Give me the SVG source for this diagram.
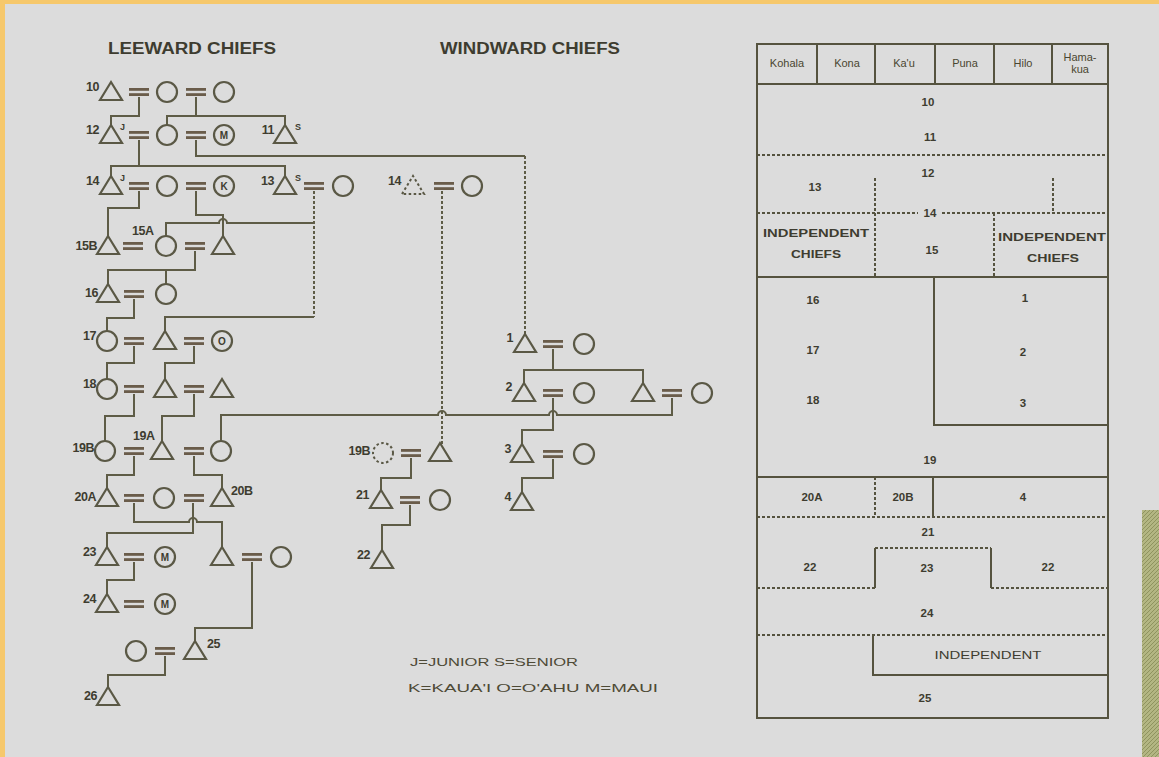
<svg xmlns="http://www.w3.org/2000/svg" width="1159" height="757" viewBox="0 0 1159 757">
<style>
.ln{fill:none;stroke:#5e5c46;stroke-width:2}
.dl{fill:none;stroke:#5e5c46;stroke-width:2;stroke-dasharray:3 2}
.sym{fill:none;stroke:#5a5845;stroke-width:2.2}
.dsym{fill:none;stroke:#5a5845;stroke-width:2;stroke-dasharray:2.5 2.5}
.eqs{fill:none;stroke:#6a5c4a;stroke-width:2.8}
.lab{font-family:"Liberation Sans",Arial,sans-serif;font-weight:bold;font-size:12.5px;fill:#3e3c30;letter-spacing:-0.5px}
.sup{font-family:"Liberation Sans",Arial,sans-serif;font-weight:bold;font-size:9px;fill:#3e3c30}
.in{font-family:"Liberation Sans",Arial,sans-serif;font-weight:bold;font-size:10px;fill:#3e3c30;text-anchor:middle}
.ttl{font-family:"Liberation Sans",Arial,sans-serif;font-weight:bold;font-size:16px;fill:#3e3c30}
.tb{font-family:"Liberation Sans",Arial,sans-serif;font-weight:bold;font-size:11.5px;fill:#3e3c30;text-anchor:middle}
.th{font-family:"Liberation Sans",Arial,sans-serif;font-size:11px;fill:#4a4630;text-anchor:middle}
.lg{font-family:"Liberation Sans",Arial,sans-serif;font-size:11px;fill:#4e4a36}
.tl{fill:none;stroke:#55533f;stroke-width:2}
.td{fill:none;stroke:#55533f;stroke-width:2;stroke-dasharray:3 2}
</style>
<defs>
<path id="tri" d="M-11,8 L0,-10 L11,8 Z"/>
<circle id="cir" r="10"/>
<g id="eq"><line x1="-10" y1="-2.6" x2="10" y2="-2.6"/><line x1="-10" y1="2.6" x2="10" y2="2.6"/></g>
<pattern id="tex" width="4" height="4" patternUnits="userSpaceOnUse"><rect width="4" height="4" fill="#b3b683"/><path d="M0,4 L4,0" stroke="#8f935f" stroke-width="1"/></pattern>
</defs>
<rect width="1159" height="757" fill="#dcdcdc"/>
<rect x="0" y="0" width="1159" height="4" fill="#f6c86c"/>
<rect x="0" y="0" width="5" height="757" fill="#f6c86c"/>
<rect x="1142" y="510" width="17" height="247" fill="url(#tex)"/>

<text class="ttl" x="108" y="54" textLength="168" lengthAdjust="spacingAndGlyphs">LEEWARD CHIEFS</text>
<text class="ttl" x="440" y="54" textLength="180" lengthAdjust="spacingAndGlyphs">WINDWARD CHIEFS</text>

<g id="connectors">
<g class="eqs">
<use href="#eq" x="139" y="92"/><use href="#eq" x="196" y="92"/>
<use href="#eq" x="139" y="135"/><use href="#eq" x="196" y="135"/>
<use href="#eq" x="139" y="186"/><use href="#eq" x="196" y="186"/><use href="#eq" x="314" y="186"/>
<use href="#eq" x="133" y="246"/><use href="#eq" x="195" y="246"/>
<use href="#eq" x="134" y="294"/>
<use href="#eq" x="134" y="341"/><use href="#eq" x="194" y="341"/>
<use href="#eq" x="134" y="389"/><use href="#eq" x="194" y="389"/>
<use href="#eq" x="134" y="451"/><use href="#eq" x="194" y="451"/>
<use href="#eq" x="134" y="498"/><use href="#eq" x="194" y="498"/>
<use href="#eq" x="134" y="557"/><use href="#eq" x="252" y="557"/>
<use href="#eq" x="134" y="604"/>
<use href="#eq" x="165" y="651"/>
<use href="#eq" x="444" y="186"/>
<use href="#eq" x="411" y="453"/>
<use href="#eq" x="410" y="500"/>
<use href="#eq" x="553" y="344"/>
<use href="#eq" x="553" y="393"/><use href="#eq" x="672" y="393"/>
<use href="#eq" x="553" y="454"/>
</g>
<path class="ln" d="M139,97 V116 H111 V126"/>
<path class="ln" d="M196,97 V116 M167,125 V116 H285 V126"/>
<path class="ln" d="M139,140 V166 H111 V177 M111,166 H285 V177"/>
<path class="ln" d="M196,140 V156 H525"/>
<path class="dl" d="M525,156 V335"/>
<path class="ln" d="M139,191 V208 H108 V237"/>
<path class="ln" d="M196,191 V215 H223 V237"/>
<path class="ln" d="M166,236 V223 H219 A4,4 0 0 1 227,223 H314"/>
<path class="dl" d="M314,191 V317"/>
<path class="ln" d="M314,317 H165 V332"/>
<path class="ln" d="M195,251 V270 H108 V285 M166,270 V284"/>
<path class="ln" d="M134,299 V318 H107 V331"/>
<path class="ln" d="M134,346 V363 H107 V379 M194,346 V363 H165 V380"/>
<path class="ln" d="M134,394 V416 H105 V441 M194,394 V416 H162 V442"/>
<path class="ln" d="M672,398 V415 H557 A4,4 0 0 0 549,415 H446 A4,4 0 0 0 438,415 H221 V441"/>
<path class="ln" d="M134,456 V475 H107 V489 M194,456 V475 H222 V489"/>
<path class="ln" d="M134,503 V522 H189 A4,4 0 0 1 197,522 H222 V548"/>
<path class="ln" d="M193,503 V533 H107 V548"/>
<path class="ln" d="M134,562 V580 H107 V595"/>
<path class="ln" d="M252,562 V628 H195 V642"/>
<path class="ln" d="M165,656 V675 H108 V688"/>
<path class="dl" d="M442,191 V444"/>
<path class="ln" d="M411,458 V478 H381 V491"/>
<path class="ln" d="M410,505 V525 H382 V551"/>
<path class="ln" d="M553,349 V370 M524,384 V370 H643 V384"/>
<path class="ln" d="M553,398 V430 H522 V445"/>
<path class="ln" d="M553,459 V478 H522 V493"/>
</g>

<g id="n10"><use class="sym" href="#tri" x="111" y="92"/><text class="lab" x="99" y="91" text-anchor="end">10</text></g>
<g id="n10w1"><use class="sym" href="#cir" x="167" y="92"/></g>
<g id="n10w2"><use class="sym" href="#cir" x="224" y="92"/></g>
<g id="n12"><use class="sym" href="#tri" x="111" y="135"/><text class="lab" x="99" y="134" text-anchor="end">12</text><text class="sup" x="120" y="130">J</text></g>
<g id="n12w1"><use class="sym" href="#cir" x="167" y="135"/></g>
<g id="n12w2"><use class="sym" href="#cir" x="224" y="135"/><text class="in" x="224" y="139">M</text></g>
<g id="n11"><use class="sym" href="#tri" x="285" y="135"/><text class="lab" x="274" y="134" text-anchor="end">11</text><text class="sup" x="295" y="130">S</text></g>
<g id="n14"><use class="sym" href="#tri" x="111" y="186"/><text class="lab" x="99" y="185" text-anchor="end">14</text><text class="sup" x="120" y="181">J</text></g>
<g id="n14w1"><use class="sym" href="#cir" x="167" y="186"/></g>
<g id="n14w2"><use class="sym" href="#cir" x="224" y="186"/><text class="in" x="224" y="190">K</text></g>
<g id="n13"><use class="sym" href="#tri" x="285" y="186"/><text class="lab" x="274" y="185" text-anchor="end">13</text><text class="sup" x="295" y="181">S</text></g>
<g id="n13w"><use class="sym" href="#cir" x="343" y="186"/></g>
<g id="n15b"><use class="sym" href="#tri" x="108" y="246"/><text class="lab" x="97" y="250" text-anchor="end">15B</text></g>
<g id="n15a"><use class="sym" href="#cir" x="166" y="246"/><text class="lab" x="132" y="235">15A</text></g>
<g id="n15h"><use class="sym" href="#tri" x="223" y="246"/></g>
<g id="n16"><use class="sym" href="#tri" x="108" y="294"/><text class="lab" x="98" y="297" text-anchor="end">16</text></g>
<g id="n16w"><use class="sym" href="#cir" x="166" y="294"/></g>
<g id="n17w"><use class="sym" href="#cir" x="107" y="341"/><text class="lab" x="96" y="340" text-anchor="end">17</text></g>
<g id="n17"><use class="sym" href="#tri" x="165" y="341"/></g>
<g id="n17o"><use class="sym" href="#cir" x="222" y="341"/><text class="in" x="222" y="345">O</text></g>
<g id="n18w"><use class="sym" href="#cir" x="107" y="389"/><text class="lab" x="96" y="388" text-anchor="end">18</text></g>
<g id="n18"><use class="sym" href="#tri" x="165" y="389"/></g>
<g id="n18h"><use class="sym" href="#tri" x="222" y="389"/></g>
<g id="n19b"><use class="sym" href="#cir" x="105" y="451"/><text class="lab" x="94" y="452" text-anchor="end">19B</text></g>
<g id="n19a"><use class="sym" href="#tri" x="162" y="451"/><text class="lab" x="133" y="440">19A</text></g>
<g id="n19w"><use class="sym" href="#cir" x="221" y="451"/></g>
<g id="n20a"><use class="sym" href="#tri" x="107" y="498"/><text class="lab" x="96" y="501" text-anchor="end">20A</text></g>
<g id="n20w"><use class="sym" href="#cir" x="164" y="498"/></g>
<g id="n20b"><use class="sym" href="#tri" x="222" y="498"/><text class="lab" x="231" y="495">20B</text></g>
<g id="n23"><use class="sym" href="#tri" x="107" y="557"/><text class="lab" x="96" y="556" text-anchor="end">23</text></g>
<g id="n23w"><use class="sym" href="#cir" x="165" y="557"/><text class="in" x="165" y="561">M</text></g>
<g id="n23b"><use class="sym" href="#tri" x="222" y="557"/></g>
<g id="n23bw"><use class="sym" href="#cir" x="281" y="557"/></g>
<g id="n24"><use class="sym" href="#tri" x="107" y="604"/><text class="lab" x="96" y="603" text-anchor="end">24</text></g>
<g id="n24w"><use class="sym" href="#cir" x="165" y="604"/><text class="in" x="165" y="608">M</text></g>
<g id="n25w"><use class="sym" href="#cir" x="136" y="651"/></g>
<g id="n25"><use class="sym" href="#tri" x="195" y="651"/><text class="lab" x="207" y="648">25</text></g>
<g id="n26"><use class="sym" href="#tri" x="108" y="697"/><text class="lab" x="97" y="700" text-anchor="end">26</text></g>

<g id="w14"><use class="dsym" href="#tri" x="413" y="186"/><text class="lab" x="401" y="185" text-anchor="end">14</text></g>
<g id="w14w"><use class="sym" href="#cir" x="472" y="186"/></g>
<g id="w19b"><use class="dsym" href="#cir" x="383" y="453"/><text class="lab" x="370" y="455" text-anchor="end">19B</text></g>
<g id="w19h"><use class="sym" href="#tri" x="440" y="453"/></g>
<g id="w21"><use class="sym" href="#tri" x="381" y="500"/><text class="lab" x="369" y="499" text-anchor="end">21</text></g>
<g id="w21w"><use class="sym" href="#cir" x="440" y="500"/></g>
<g id="w22"><use class="sym" href="#tri" x="382" y="560"/><text class="lab" x="370" y="559" text-anchor="end">22</text></g>
<g id="w1"><use class="sym" href="#tri" x="525" y="344"/><text class="lab" x="513" y="342" text-anchor="end">1</text></g>
<g id="w1w"><use class="sym" href="#cir" x="584" y="344"/></g>
<g id="w2"><use class="sym" href="#tri" x="524" y="393"/><text class="lab" x="512" y="391" text-anchor="end">2</text></g>
<g id="w2w"><use class="sym" href="#cir" x="584" y="393"/></g>
<g id="w2b"><use class="sym" href="#tri" x="643" y="393"/></g>
<g id="w2bw"><use class="sym" href="#cir" x="702" y="393"/></g>
<g id="w3"><use class="sym" href="#tri" x="522" y="454"/><text class="lab" x="511" y="453" text-anchor="end">3</text></g>
<g id="w3w"><use class="sym" href="#cir" x="584" y="454"/></g>
<g id="w4"><use class="sym" href="#tri" x="522" y="502"/><text class="lab" x="511" y="501" text-anchor="end">4</text></g>

<g id="legend">
<text class="lg" x="410" y="666" textLength="168" lengthAdjust="spacingAndGlyphs">J=JUNIOR   S=SENIOR</text>
<text class="lg" x="408" y="692" textLength="250" lengthAdjust="spacingAndGlyphs">K=KAUA'I   O=O'AHU   M=MAUI</text>
</g>

<g id="table">
<rect class="tl" x="757" y="44" width="351" height="674"/>
<path class="tl" d="M757,84 H1108" stroke-width="2.5"/>
<path class="tl" d="M817,44 V84 M875,44 V84 M935,44 V84 M994,44 V84 M1052,44 V84"/>
<text class="th" x="787" y="67">Kohala</text>
<text class="th" x="847" y="67">Kona</text>
<text class="th" x="904" y="67">Ka'u</text>
<text class="th" x="965" y="67">Puna</text>
<text class="th" x="1023" y="67">Hilo</text>
<text class="th" x="1080" y="61" font-size="10">Hama-</text>
<text class="th" x="1080" y="73" font-size="10">kua</text>
<path class="td" d="M757,155 H1108"/>
<path class="td" d="M875,178 V277 M1053,178 V213"/>
<path class="td" d="M757,213 H918 M942,213 H1108"/>
<path class="td" d="M994,213 V277"/>
<path class="tl" d="M757,277 H1108"/>
<path class="tl" d="M934,277 V425 H1108"/>
<path class="tl" d="M757,477 H1108"/>
<path class="td" d="M875,477 V517"/>
<path class="tl" d="M933,477 V517"/>
<path class="td" d="M757,517 H1108"/>
<path class="td" d="M757,588 H875 M875,548 H991 M991,588 H1108"/>
<path class="tl" d="M875,588 V548 M991,548 V588"/>
<path class="td" d="M757,635 H1108"/>
<path class="tl" d="M873,635 V675 H1108"/>
<text class="tb" x="928" y="106">10</text>
<text class="tb" x="930" y="141">11</text>
<text class="tb" x="928" y="177">12</text>
<text class="tb" x="815" y="191">13</text>
<text class="tb" x="930" y="217">14</text>
<text class="tb" x="816" y="237" style="font-size:10px" textLength="106" lengthAdjust="spacingAndGlyphs">INDEPENDENT</text>
<text class="tb" x="816" y="258" style="font-size:10px" textLength="50" lengthAdjust="spacingAndGlyphs">CHIEFS</text>
<text class="tb" x="932" y="254">15</text>
<text class="tb" x="1052" y="241" style="font-size:10px" textLength="108" lengthAdjust="spacingAndGlyphs">INDEPENDENT</text>
<text class="tb" x="1053" y="262" style="font-size:10px" textLength="52" lengthAdjust="spacingAndGlyphs">CHIEFS</text>
<text class="tb" x="813" y="304">16</text>
<text class="tb" x="813" y="354">17</text>
<text class="tb" x="813" y="404">18</text>
<text class="tb" x="1025" y="302">1</text>
<text class="tb" x="1023" y="356">2</text>
<text class="tb" x="1023" y="407">3</text>
<text class="tb" x="930" y="464">19</text>
<text class="tb" x="812" y="501">20A</text>
<text class="tb" x="903" y="501">20B</text>
<text class="tb" x="1023" y="501">4</text>
<text class="tb" x="928" y="536">21</text>
<text class="tb" x="810" y="571">22</text>
<text class="tb" x="927" y="572">23</text>
<text class="tb" x="1048" y="571">22</text>
<text class="tb" x="927" y="617">24</text>
<text class="tb" x="988" y="659" style="font-size:10px;font-weight:normal" textLength="107" lengthAdjust="spacingAndGlyphs">INDEPENDENT</text>
<text class="tb" x="925" y="702">25</text>
</g>
</svg>
